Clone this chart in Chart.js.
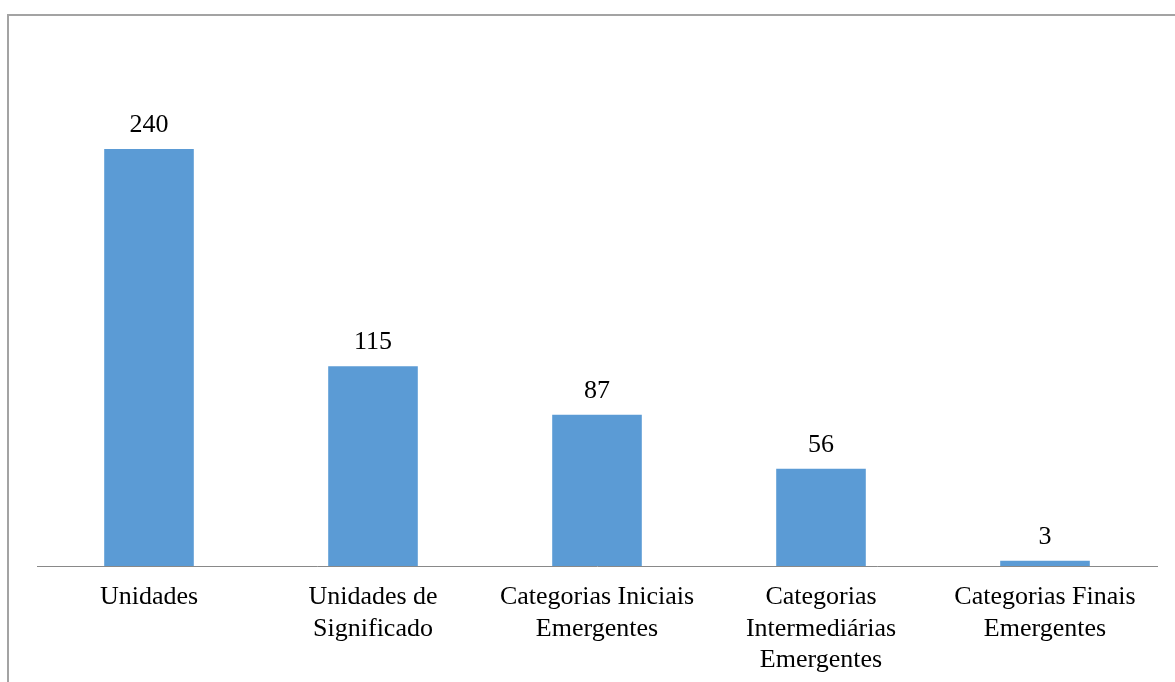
<!DOCTYPE html>
<html lang="pt">
<head>
<meta charset="utf-8">
<title>Unidades e categorias</title>
<script src="https://cdn.jsdelivr.net/npm/chart.js@4/dist/chart.umd.min.js"></script>
<style>
  html, body { margin: 0; padding: 0; background: #fff; overflow: hidden; }
  canvas { display: block; }
</style>
</head>
<body>
<canvas id="grafico" width="1175" height="682"></canvas>
<script>
// Dados do gráfico
const categorias = [
    'Unidades',
    ['Unidades de', 'Significado'],
    ['Categorias Iniciais', 'Emergentes'],
    ['Categorias', 'Intermediárias', 'Emergentes'],
    ['Categorias Finais', 'Emergentes']
];
const quantidades = [240, 115, 87, 56, 3];

const fonte = { family: "'Liberation Serif', 'Times New Roman', serif", size: 26 };

// Moldura cinza em volta do gráfico (sai pela direita e por baixo)
const moldura = {
    id: 'moldura',
    beforeDraw(chart) {
        const c = chart.ctx;
        c.save();
        c.strokeStyle = '#a3a3a3';
        c.lineWidth = 2;
        c.beginPath();
        c.moveTo(8, 700);
        c.lineTo(8, 15);
        c.lineTo(1180, 15);
        c.stroke();
        c.restore();
    }
};

// Valor escrito acima de cada barra
const rotulos = {
    id: 'rotulos',
    afterDatasetsDraw(chart) {
        const c = chart.ctx;
        const meta = chart.getDatasetMeta(0);
        c.save();
        c.font = fonte.size + 'px ' + fonte.family;
        c.fillStyle = '#000';
        c.textAlign = 'center';
        c.textBaseline = 'alphabetic';
        meta.data.forEach((barra, i) => {
            c.fillText(String(quantidades[i]), barra.x, barra.y - 17);
        });
        c.restore();
    }
};

const ctx = document.getElementById('grafico');

new Chart(ctx, {
    type: 'bar',
    data: {
        labels: categorias,
        datasets: [{
            data: quantidades,
            backgroundColor: '#5b9bd5',
            borderWidth: 0,
            barPercentage: 0.4,
            categoryPercentage: 1
        }]
    },
    options: {
        responsive: false,
        animation: false,
        devicePixelRatio: 1,
        layout: { padding: { left: 37, right: 18, top: 79.5, bottom: 0 } },
        plugins: {
            legend: { display: false },
            tooltip: { enabled: false }
        },
        scales: {
            x: {
                grid: { display: false, drawTicks: false },
                border: { display: true, color: '#898989', width: 1 },
                ticks: {
                    color: '#000',
                    font: fonte,
                    padding: 16,
                    maxRotation: 0,
                    autoSkip: false
                },
                afterFit(scale) { scale.height = 116; }
            },
            y: {
                display: false,
                min: 0,
                max: 280
            }
        }
    },
    plugins: [moldura, rotulos]
});
</script>
</body>
</html>
